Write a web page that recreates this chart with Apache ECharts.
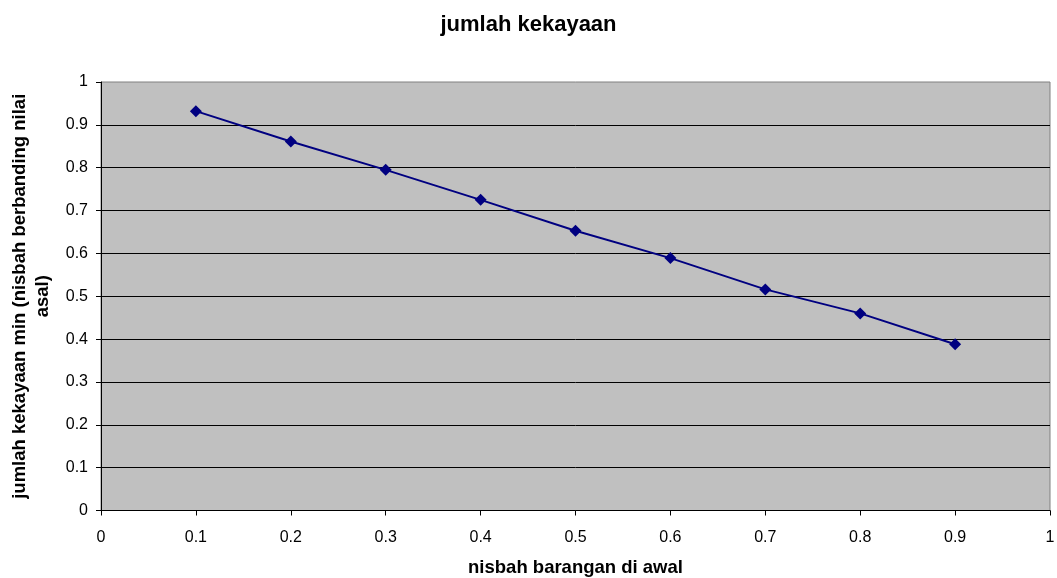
<!DOCTYPE html>
<html><head><meta charset="utf-8">
<script src="https://cdn.jsdelivr.net/npm/echarts@6/dist/echarts.min.js"></script>
<style>html,body{margin:0;padding:0;background:#fff}#c{width:1057px;height:578px}</style>
</head><body><div id="c"></div>
<script>
const xValues = [0.1, 0.2, 0.3, 0.4, 0.5, 0.6, 0.7, 0.8, 0.9];
const wealth = [0.932, 0.861, 0.795, 0.725, 0.653, 0.589, 0.516, 0.460, 0.388];
const titleText = 'jumlah kekayaan';
const xName = 'nisbah barangan di awal';
const yName = 'jumlah kekayaan min (nisbah berbanding nilai\nasal)';

const chart = echarts.init(document.getElementById('c'), null, {renderer: 'canvas'});
const font = 'Liberation Sans, Arial, sans-serif';
chart.setOption({
  animation: false,
  backgroundColor: '#ffffff',
  title: {text: titleText, left: 'center', top: 9,
    textStyle: {fontFamily: font, fontSize: 22, fontWeight: 'bold', color: '#000'}},
  grid: {left: 101, right: 7, top: 82, bottom: 67.5, outerBoundsMode: 'none', containLabel: false,
    show: true, backgroundColor: '#c0c0c0', borderColor: '#808080', borderWidth: 1},
  xAxis: {type: 'value', min: 0, max: 1, interval: 0.1,
    name: xName, nameLocation: 'middle', nameGap: 48,
    nameTextStyle: {fontFamily: font, fontSize: 18.5, fontWeight: 'bold', color: '#000'},
    axisLine: {show: true, onZero: false, lineStyle: {color: '#000', width: 1}},
    axisTick: {show: true, length: 5, lineStyle: {color: '#000'}},
    axisLabel: {fontFamily: font, fontSize: 16, color: '#000', margin: 19, formatter: v => String(+v.toFixed(1))},
    splitLine: {show: false}},
  yAxis: {type: 'value', min: 0, max: 1, interval: 0.1,
    name: yName, nameLocation: 'middle', nameGap: 47,
    nameTextStyle: {fontFamily: font, fontSize: 18.5, fontWeight: 'bold', color: '#000', align: 'center', lineHeight: 23},
    axisLine: {show: true, lineStyle: {color: '#000', width: 1}},
    axisTick: {show: true, length: 5, lineStyle: {color: '#000'}},
    axisLabel: {fontFamily: font, fontSize: 16, color: '#000', margin: 13, formatter: v => String(+v.toFixed(1))},
    splitLine: {show: true, showMaxLine: false, showMinLine: false, lineStyle: {color: '#000', width: 1}}},
  series: [{type: 'line', data: xValues.map((x, i) => [x, wealth[i]]),
    symbol: 'diamond', symbolSize: 12,
    lineStyle: {color: '#000080', width: 2},
    itemStyle: {color: '#000080'}}]
});
</script></body></html>
